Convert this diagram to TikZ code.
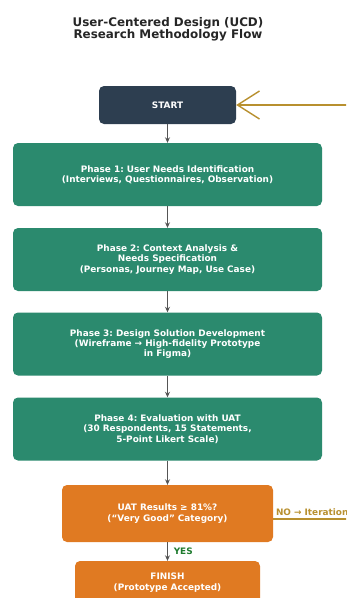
\documentclass[tikz,border=0pt]{standalone}
\usepackage{fontspec}
\setmainfont{DejaVu Sans}
\usepackage{xcolor}
\usetikzlibrary{arrows.meta,positioning}
\definecolor{navy}{HTML}{2D3E50}
\definecolor{phasegreen}{HTML}{2B8A6E}
\definecolor{carrot}{HTML}{E07A22}
\definecolor{gold}{HTML}{B8902F}
\definecolor{yesgreen}{HTML}{1E7B2E}
\definecolor{flowgray}{HTML}{555555}
\frenchspacing
\tikzset{
  box/.style={
    shape = rectangle,
    rounded corners = 5pt,
    text = white,
    align = center,
    font = \bfseries\fontsize{8.9}{10.4}\selectfont,
    inner sep = 0pt
  },
  startbox/.style={
    box,
    fill = navy,
    minimum width = 137pt,
    minimum height = 38pt
  },
  phase/.style={
    box,
    fill = phasegreen,
    minimum width = 309pt,
    minimum height = 63pt
  },
  decision/.style={
    box,
    fill = carrot,
    minimum width = 211pt,
    minimum height = 57pt
  },
  finishbox/.style={
    box,
    fill = carrot,
    minimum width = 185pt,
    minimum height = 43pt
  },
  flow/.style={
    draw = flowgray,
    line width = 1.9pt,
    -{Stealth[length=5.5pt,width=5pt]}
  },
  loopback/.style={
    draw = gold,
    line width = 1.6pt,
    -{Straight Barb[length=22pt,width=28pt,line width=1.4pt]}
  }
}

\begin{document}
\begin{tikzpicture}[x=1pt,y=-1pt]
    \useasboundingbox (0,0) rectangle (346,598);
    \clip (0,0) rectangle (346,598);
    \fill[white] (0,0) rectangle (346,598);

    % title
    \node[align=center, text=black!85, font=\bfseries\fontsize{11.9}{12}\selectfont] (title) at (168,29)
        {User-Centered Design (UCD)\\Research Methodology Flow};

    \node[startbox] (start) at (167.5,105) {START};

    \node[phase] (p1) at (167.5,174.5)
        {Phase 1: User Needs Identification\\(Interviews, Questionnaires, Observation)};
    \node[phase] (p2) at (167.5,259.5)
        {Phase 2: Context Analysis \&\\Needs Specification\\(Personas, Journey Map, Use Case)};
    \node[phase] (p3) at (167.5,344)
        {Phase 3: Design Solution Development\\(Wireframe → High-fidelity Prototype\\in Figma)};
    \node[phase] (p4) at (167.5,429)
        {Phase 4: Evaluation with UAT\\(30 Respondents, 15 Statements,\\5-Point Likert Scale)};

    \node[decision] (uat) at (167.5,513.5)
        {UAT Results ≥ 81\%?\\(“Very Good” Category)};
    \node[finishbox] (finish) at (167.5,582.5)
        {FINISH\\(Prototype Accepted)};

    % main flow
    \draw[flow] (start) -- (p1);
    \draw[flow] (p1) -- (p2);
    \draw[flow] (p2) -- (p3);
    \draw[flow] (p3) -- (p4);
    \draw[flow] (p4) -- (uat);
    \draw[flow] (uat) -- (finish)
        node[midway, right=2pt, text=yesgreen, font=\bfseries\fontsize{8.9}{9}\selectfont] (yes) {YES};

    % iteration back to start
    \coordinate (noEnd) at (352,519);
    \coordinate (backIn) at (352,105);
    \draw[draw=gold, line width=1.6pt] (uat.east |- noEnd) -- (noEnd)
        node[pos=0, anchor=south west, inner sep=2pt, yshift=1pt, text=gold,
             font=\bfseries\fontsize{8.9}{9}\selectfont] (no) {NO → Iteration};
    \draw[loopback] (backIn) -- (start.east);
\end{tikzpicture}
\end{document}
